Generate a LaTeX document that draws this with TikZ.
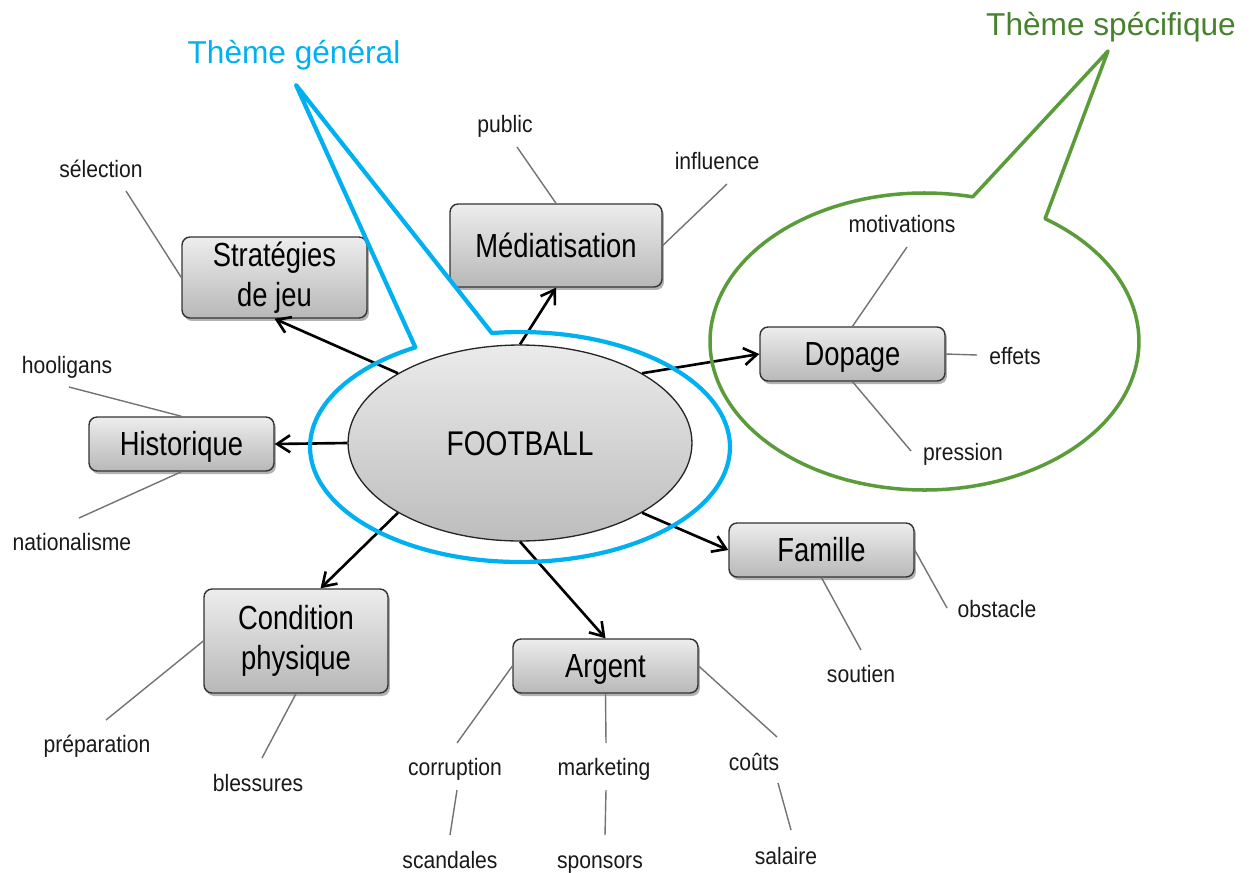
\documentclass[tikz,border=0pt]{standalone}
\usepackage{fontspec}
\setmainfont{Liberation Sans}
\newfontfamily\boxfont{Liberation Sans}[FakeStretch=0.82]
\newfontfamily\smallfont{Liberation Sans}[FakeStretch=0.89]
\usetikzlibrary{shapes.geometric,arrows.meta,shadows,calc}
\definecolor{bluec}{RGB}{0,176,240}
\definecolor{greent}{RGB}{70,130,45}
\definecolor{greenl}{RGB}{90,155,58}
\begin{document}
\begin{tikzpicture}[x=0.02cm, y=-0.02cm,
  topic/.style={draw=black!80, line width=0.8pt, rounded corners=0.16cm,
    top color=black!7, bottom color=black!28, inner sep=0pt, align=center,
    font=\boxfont\fontsize{19}{23}\selectfont,
    drop shadow={shadow xshift=0.04cm, shadow yshift=-0.06cm, opacity=0.3, fill=black}},
  topicone/.style={topic, text height=13.6pt, text depth=0pt},
  centre/.style={ellipse, draw=black!85, line width=0.75pt, top color=black!8, bottom color=black!26,
    inner sep=0pt, minimum width=6.88cm, minimum height=3.92cm,
    font=\boxfont\fontsize{19.5}{23}\selectfont, text height=14pt, text depth=0pt},
  lbl/.style={font=\smallfont\fontsize{13.5}{16}\selectfont, inner sep=0pt,
    text height=9.7pt, text depth=0pt, text=black!90},
  thin/.style={draw=black!55, line width=0.8pt},
  arr/.style={line width=1.5pt, -{Straight Barb[length=0.26cm,width=0.34cm]}},
  title/.style={font=\fontsize{18}{21}\selectfont, inner sep=0pt, text height=12.9pt, text depth=0pt},
  callb/.style={draw=bluec, line width=2.4pt, line join=round},
  callg/.style={draw=greenl, line width=2pt, line join=round}
]
\useasboundingbox (0,0) rectangle (1256,872);

% central node and topics
\node[centre] (fb) at (520,443) {FOOTBALL};
\node[topic, minimum width=4.24cm, minimum height=1.66cm, text height=13.6pt, text depth=0pt] (med) at (556,245.5) {Médiatisation};
\node[topic, minimum width=3.70cm, minimum height=1.62cm] (strat) at (274.5,277.5) {\rule{0pt}{0pt}\raisebox{-3pt}{Stratégies}\\\raisebox{-3pt}{de jeu}};
\node[topicone, minimum width=3.70cm, minimum height=1.08cm] (hist) at (181.5,444) {Historique};
\node[topicone, minimum width=3.70cm, minimum height=1.08cm] (dop) at (852.5,354) {Dopage};
\node[topicone, minimum width=3.70cm, minimum height=1.08cm] (fam) at (821.5,550) {Famille};
\node[topicone, minimum width=3.70cm, minimum height=1.08cm] (arg) at (605.5,666) {Argent};
\node[topic, minimum width=3.68cm, minimum height=2.08cm] (cond) at (296,641) {Condition\\physique};

% arrows
\draw[arr] (fb.north) -- (med.south);
\draw[arr] (fb.north west) -- (strat.south);
\draw[arr] (fb.west) -- (hist.east);
\draw[arr] (fb.north east) -- (dop.west);
\draw[arr] (fb.south east) -- (fam.west);
\draw[arr] (fb.south) -- (arg.north);
\draw[arr] (fb.south west) -- (cond.65);

% labels
\node[lbl] (pub) at (505,124) {public};
\node[lbl] (inf) at (717,161) {influence};
\node[lbl] (sel) at (101,169) {sélection};
\node[lbl] (hoo) at (67,365) {hooligans};
\node[lbl] (nat) at (72,542) {nationalisme};
\node[lbl] (mot) at (902,224) {motivations};
\node[lbl] (eff) at (1015,356) {effets};
\node[lbl] (pre) at (963,452) {pression};
\node[lbl] (obs) at (997,609) {obstacle};
\node[lbl] (sou) at (861,674) {soutien};
\node[lbl] (cor) at (455,767) {corruption};
\node[lbl] (mkt) at (604,767) {marketing};
\node[lbl] (cou) at (754,762) {coûts};
\node[lbl] (sca) at (450,860) {scandales};
\node[lbl] (spo) at (600,860) {sponsors};
\node[lbl] (sal) at (786,856) {salaire};
\node[lbl] (prep) at (97,744) {préparation};
\node[lbl] (bles) at (258,783) {blessures};

% free ends of the thin connectors
\coordinate (e-pub) at (517,147);
\coordinate (e-inf) at (727,184);
\coordinate (e-sel) at (126,191);
\coordinate (e-hoo) at (69,387);
\coordinate (e-nat) at (79,518);
\coordinate (e-mot) at (907,247);
\coordinate (e-eff) at (977,355);
\coordinate (e-pre) at (911,451);
\coordinate (e-obs) at (947,608);
\coordinate (e-sou) at (861,650);
\coordinate (e-cor) at (457,743);
\coordinate (e-mkt) at (606,743);
\coordinate (e-cou) at (777,737);
\coordinate (e-prep) at (106,720);
\coordinate (e-bles) at (262,758);
\coordinate (s1a) at (457,790);
\coordinate (s1b) at (450,835);
\coordinate (s2a) at (606,790);
\coordinate (s2b) at (605,835);
\coordinate (s3a) at (778,783);
\coordinate (s3b) at (791,830);

\draw[thin] (med.north) -- (e-pub);
\draw[thin] (med.east) -- (e-inf);
\draw[thin] (strat.west) -- (e-sel);
\draw[thin] (hist.north) -- (e-hoo);
\draw[thin] (hist.south) -- (e-nat);
\draw[thin] (dop.north) -- (e-mot);
\draw[thin] (dop.east) -- (e-eff);
\draw[thin] (dop.south) -- (e-pre);
\draw[thin] (fam.east) -- (e-obs);
\draw[thin] (fam.south) -- (e-sou);
\draw[thin] (arg.west) -- (e-cor);
\draw[thin] (arg.south) -- (e-mkt);
\draw[thin] (arg.east) -- (e-cou);
\draw[thin] (cond.west) -- (e-prep);
\draw[thin] (cond.south) -- (e-bles);
\draw[thin] (s1a) -- (s1b);
\draw[thin] (s2a) -- (s2b);
\draw[thin] (s3a) -- (s3b);

% callouts
\coordinate (bc) at (520,447);
\coordinate (btip) at (296,85);
\coordinate (gc) at (924.5,341.5);
\coordinate (gtip) at (1108,51);
\draw[callb] (bc) ++(97.7:4.2cm and 2.3cm)
  arc[start angle=97.7, end angle=-240.1, x radius=4.2cm, y radius=2.3cm] -- (btip) -- cycle;
\draw[callg] (gc) ++(77:4.29cm and 2.97cm)
  arc[start angle=77, end angle=415.8, x radius=4.29cm, y radius=2.97cm] -- (gtip) -- cycle;

\node[title, text=bluec] (tg) at (294,52.5) {Thème général};
\node[title, text=greent] (ts) at (1111,24.5) {Thème spécifique};
\end{tikzpicture}
\end{document}
